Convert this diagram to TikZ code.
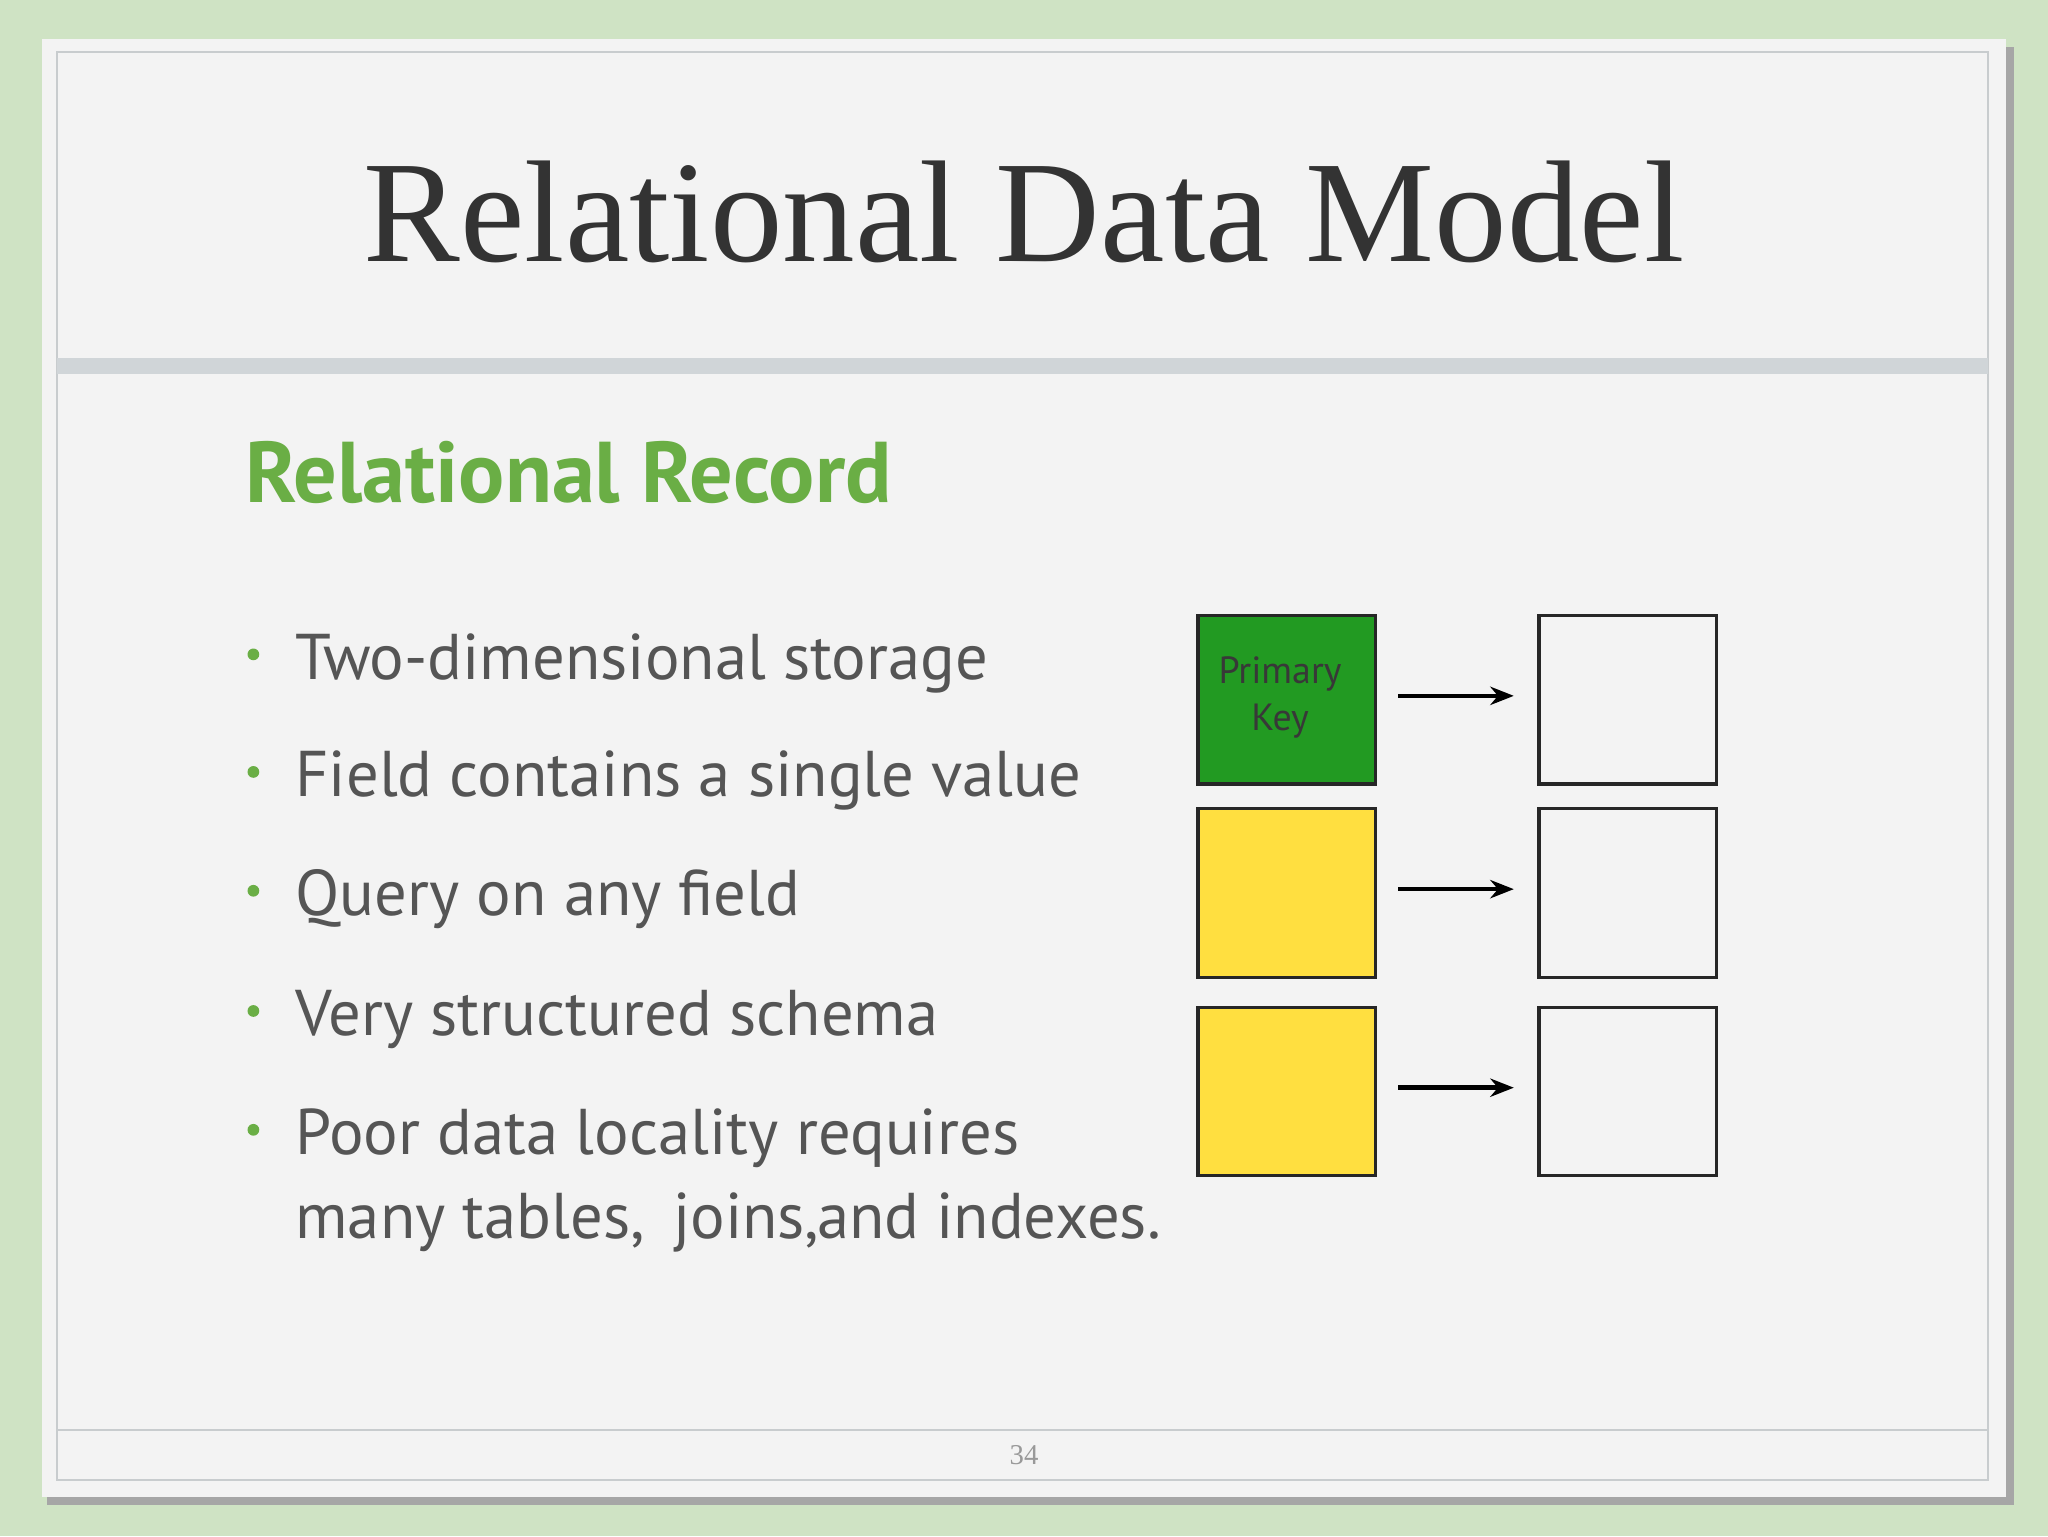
\documentclass[tikz,border=0pt]{standalone}
\usepackage{fontspec}
\setmainfont{Liberation Serif}
\newfontfamily\osans{PT Sans}
\usetikzlibrary{arrows.meta}
\definecolor{bgg}{HTML}{CFE3C4}
\definecolor{slide}{HTML}{F3F3F3}
\definecolor{frm}{HTML}{C8CCCE}
\definecolor{band}{HTML}{D0D5D8}
\definecolor{ttl}{HTML}{333333}
\definecolor{grn}{HTML}{6AAE45}
\definecolor{txt}{HTML}{555555}
\definecolor{pk}{HTML}{229A22}
\definecolor{yl}{HTML}{FFDF40}
\tikzset{
  cell/.style={draw=black!85, line width=2.5pt, anchor=north west, minimum width=136pt, minimum height=129pt, inner sep=0pt},
  bul/.style={anchor=base west, inner sep=0pt, font=\osans\fontsize{49.5}{60}\selectfont, text=txt},
  dot/.style={circle, fill=grn, inner sep=0pt, minimum size=9pt},
  arr/.style={-{Stealth[length=18pt,width=14pt]}, line width=3.5pt}
}
\begin{document}
\begin{tikzpicture}[x=1pt,y=-1pt]
\fill[bgg] (0,0) rectangle (1568,1176);
\fill[black!35] (36,36) rectangle (1542,1152);
\fill[slide] (32,30) rectangle (1536,1146);
\draw[frm, line width=1.5pt] (44,40) rectangle (1522,1133);
\fill[band] (44,274) rectangle (1522,286);
\draw[frm, line width=1.5pt] (44,1095) -- (1522,1095);
\node[anchor=base, inner sep=0pt, text=ttl, font=\fontsize{111}{120}\selectfont] (title) at (784,200) {Relational Data Model};
\node[anchor=base west, inner sep=0pt, text=grn, font=\osans\bfseries\fontsize{66}{70}\selectfont] (sub) at (188,385) {Relational Record};
\foreach \t/\y [count=\i] in {Two-dimensional storage/520, Field contains a single value/610, Query on any field/701, Very structured schema/793, Poor data locality requires/884}{
  \node[dot] (d\i) at (194,\y-19) {};
  \node[bul] (b\i) at (226,\y) {\t};
}
\node[bul] (b6) at (226,948) {many tables,\, joins,\kern-2pt and indexes.};
\node[cell, fill=pk] (k1) at (916,470) {};
\node[text=black!78, align=center, font=\osans\fontsize{29}{36}\selectfont] (pkt) at (980,534) {Primary\\Key};
\node[cell, fill=yl] (k2) at (916,618) {};
\node[cell, fill=yl] (k3) at (916,770) {};
\node[cell] (v1) at (1177,470) {};
\node[cell] (v2) at (1177,618) {};
\node[cell] (v3) at (1177,770) {};
\foreach \i in {1,2,3}{
  \draw[arr] ([xshift=16pt,yshift=3pt]k\i.east) -- ([xshift=-18pt,yshift=3pt]v\i.west);
}
\node[text=black!40, font=\fontsize{22}{26}\selectfont] (pg) at (784,1114) {34};
\end{tikzpicture}
\end{document}
